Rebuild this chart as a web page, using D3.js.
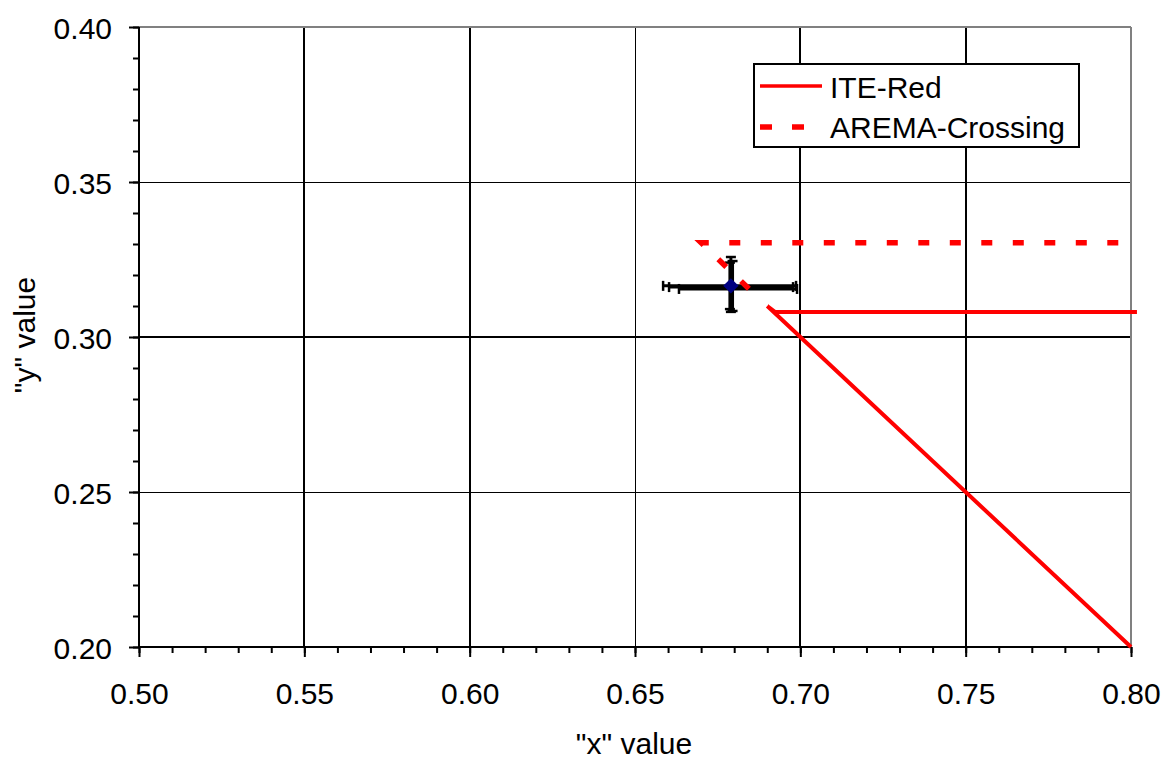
<!DOCTYPE html>
<html>
<head>
<meta charset="utf-8">
<script src="https://cdn.jsdelivr.net/npm/d3@7/dist/d3.min.js"></script>
<style>
  html, body { margin: 0; padding: 0; background: #fff; }
  svg { display: block; font-family: "Liberation Sans", Arial, sans-serif; }
</style>
</head>
<body>
<svg id="chart" width="1167" height="760"></svg>
<script>
// Axis ticks
const xTicks = [0.50, 0.55, 0.60, 0.65, 0.70, 0.75, 0.80];
const yTicks = [0.20, 0.25, 0.30, 0.35, 0.40];

// ITE-Red boundary
const iteRedX = [0.800, 0.690, 0.6923, 0.8018];
const iteRedY = [0.200, 0.310, 0.3081, 0.3081];

// AREMA-Crossing boundary
const aremaX = [0.685, 0.670, 0.800];
const aremaY = [0.315, 0.3304, 0.3304];

// Measured points with error ranges
const ptX    = [0.6790, 0.6795, 0.6787];
const ptY    = [0.3165, 0.3161, 0.3155];
const ptXLow = [0.6585, 0.6603, 0.6633];
const ptXHigh= [0.6987, 0.6978, 0.6990];
const ptYLow = [0.3081, 0.3084, 0.3090];
const ptYHigh= [0.3258, 0.3245, 0.3240];
const ptMarker = [true, false, false];

const legendLabels = ["ITE-Red", "AREMA-Crossing"];

const svg = d3.select("#chart");
const plotL = 139, plotR = 1131, plotT = 27, plotB = 647;
const FONT = 30;

const x = d3.scaleLinear().domain([0.50, 0.80]).range([plotL, plotR]);
const y = d3.scaleLinear().domain([0.20, 0.40]).range([plotB, plotT]);

// Gridlines (1px lines sit on half pixels to stay crisp)
const g = svg.append("g");
const vWidth = d => (Math.abs(d - 0.65) < 1e-9 ? 1 : 2);
const hWidth = d => (Math.abs(d - 0.30) < 1e-9 ? 2 : 1);
const crisp = (v, w) => Math.round(v) + (w % 2 ? 0.5 : 0);
g.selectAll(".vg").data(xTicks.filter(d => d > 0.5 && d < 0.8)).enter().append("line")
  .attr("x1", d => crisp(x(d), vWidth(d))).attr("x2", d => crisp(x(d), vWidth(d)))
  .attr("y1", plotT).attr("y2", plotB)
  .attr("stroke", "#000").attr("stroke-width", vWidth);
g.selectAll(".hg").data(yTicks.filter(d => d > 0.2 && d < 0.4)).enter().append("line")
  .attr("x1", plotL).attr("x2", plotR)
  .attr("y1", d => crisp(y(d), hWidth(d))).attr("y2", d => crisp(y(d), hWidth(d)))
  .attr("stroke", "#000").attr("stroke-width", hWidth);

// Plot-area border on top and right
svg.append("line").attr("x1", plotL).attr("x2", plotR).attr("y1", plotT).attr("y2", plotT)
  .attr("stroke", "#808080").attr("stroke-width", 2);
svg.append("line").attr("x1", plotR).attr("x2", plotR).attr("y1", plotT).attr("y2", plotB)
  .attr("stroke", "#808080").attr("stroke-width", 2);

// Axes
const xAxis = d3.axisBottom(x).tickValues(xTicks).tickFormat(d3.format(".2f")).tickSize(10).tickPadding(26);
const yAxis = d3.axisLeft(y).tickValues(yTicks).tickFormat(d3.format(".2f")).tickSize(10).tickPadding(17);
const xMinor = d3.axisBottom(x).tickValues(d3.range(0, 31).map(i => 0.5 + i * 0.01)).tickFormat("").tickSize(6);
const yMinor = d3.axisLeft(y).tickValues(d3.range(0, 21).map(i => 0.2 + i * 0.01)).tickFormat("").tickSize(6);

function styleAxis(sel) {
  sel.select(".domain").remove();
  sel.selectAll("line").attr("stroke", "#000").attr("stroke-width", 2);
  sel.selectAll("text").attr("fill", "#000").attr("font-size", FONT)
    .attr("font-family", "Liberation Sans, Arial, sans-serif");
}
svg.append("g").attr("transform", `translate(0,${plotB})`).call(xMinor).call(styleAxis);
svg.append("g").attr("transform", `translate(${plotL},0)`).call(yMinor).call(styleAxis);
svg.append("g").attr("transform", `translate(0,${plotB})`).call(xAxis).call(styleAxis);
svg.append("g").attr("transform", `translate(${plotL},0)`).call(yAxis).call(styleAxis)
  .selectAll("text").attr("dy", "0.38em");

svg.append("line").attr("x1", plotL).attr("x2", plotL).attr("y1", plotT).attr("y2", plotB + 1)
  .attr("stroke", "#000").attr("stroke-width", 2);
svg.append("line").attr("x1", plotL - 1).attr("x2", plotR).attr("y1", plotB).attr("y2", plotB)
  .attr("stroke", "#000").attr("stroke-width", 2);

// Axis titles
svg.append("text").attr("x", 634).attr("y", 754).attr("text-anchor", "middle")
  .attr("font-size", FONT).text('"x" value');
svg.append("text").attr("transform", `translate(35,335) rotate(-90)`)
  .attr("text-anchor", "middle").attr("font-size", FONT).text('"y" value');

// Error bars
const eb = svg.append("g").attr("stroke", "#000");
const capH = 5, capW = 5;
ptX.forEach((px, i) => {
  const cx = x(px), cy = y(ptY[i]);
  eb.append("line").attr("x1", x(ptXLow[i])).attr("x2", x(ptXHigh[i])).attr("y1", cy).attr("y2", cy).attr("stroke-width", 3);
  eb.append("line").attr("x1", cx).attr("x2", cx).attr("y1", y(ptYLow[i])).attr("y2", y(ptYHigh[i])).attr("stroke-width", 3);
  [ptXLow[i], ptXHigh[i]].forEach(v => eb.append("line").attr("x1", x(v)).attr("x2", x(v))
    .attr("y1", cy - capH).attr("y2", cy + capH).attr("stroke-width", 2.5));
  [ptYLow[i], ptYHigh[i]].forEach(v => eb.append("line").attr("y1", y(v)).attr("y2", y(v))
    .attr("x1", cx - capW).attr("x2", cx + capW).attr("stroke-width", 2.5));
});

// Boundary lines
const line = d3.line().x(d => x(d[0])).y(d => y(d[1]));
svg.append("path").datum(iteRedX.map((v, i) => [v, iteRedY[i]]))
  .attr("d", line).attr("fill", "none").attr("stroke", "#ff0000").attr("stroke-width", 4);
svg.append("path").datum(aremaX.map((v, i) => [v, aremaY[i]]))
  .attr("d", line).attr("fill", "none").attr("stroke", "#ff0000").attr("stroke-width", 5.5)
  .attr("stroke-dasharray", "11,20.5").attr("stroke-dashoffset", 29);

// Point markers
ptX.forEach((px, i) => {
  if (!ptMarker[i]) return;
  svg.append("path").attr("d", d3.symbol(d3.symbolDiamond2, 150)())
    .attr("transform", `translate(${x(px)},${y(ptY[i])})`).attr("fill", "#000080");
});

// Legend
const lg = svg.append("g");
lg.append("rect").attr("x", 754).attr("y", 64).attr("width", 325).attr("height", 83)
  .attr("fill", "#fff").attr("stroke", "#000").attr("stroke-width", 2);
legendLabels.forEach((lab, i) => {
  const ly = 86 + i * 41;
  lg.append("line").attr("x1", 760).attr("x2", 822).attr("y1", ly).attr("y2", ly)
    .attr("stroke", "#ff0000").attr("stroke-width", i === 0 ? 3.5 : 5.5)
    .attr("stroke-dasharray", i === 0 ? null : "12,20");
  lg.append("text").attr("x", 830).attr("y", 98 + i * 40).attr("font-size", FONT).text(lab);
});
</script>
</body>
</html>
